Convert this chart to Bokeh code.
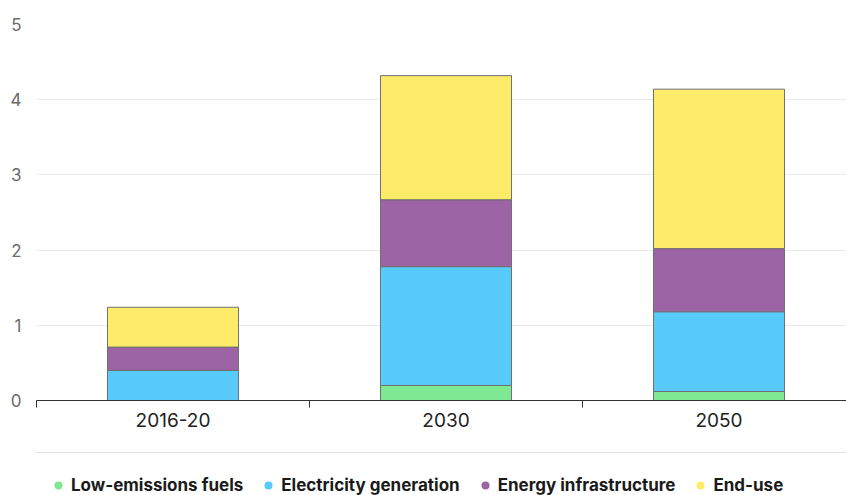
from bokeh.plotting import figure
from bokeh.layouts import column
from bokeh.models import (FixedTicker, LinearAxis, Legend, LegendItem, Range1d,
                          ColumnDataSource)
from bokeh.embed import file_html
from bokeh.resources import INLINE

categories = ["2016-20", "2030", "2050"]
series = ["Low-emissions fuels", "Electricity generation", "Energy infrastructure", "End-use"]
low_emissions = [0.0, 0.20, 0.12]
electricity = [0.40, 1.58, 1.06]
infrastructure = [0.31, 0.89, 0.84]
end_use = [0.53, 1.65, 2.12]
colors = ["#7ee892", "#58cbfa", "#9c64a4", "#fdec6a"]
y_ticks = [0, 1, 2, 3, 4, 5]

FONT = "Inter"
keys = ["low", "elec", "infra", "end"]
x = [i + 0.5 for i in range(len(categories))]
source = ColumnDataSource(dict(x=x, low=low_emissions, elec=electricity,
                               infra=infrastructure, end=end_use))

# the original chart's plot area runs slightly past the right edge of the picture
X_END = len(categories) - 0.033

# ---- main chart ----
p = figure(width=846, height=452, x_range=Range1d(0, X_END),
           y_range=Range1d(0, 5), output_backend="svg", toolbar_location=None,
           x_axis_location=None, min_border_left=36, min_border_top=24,
           min_border_right=0, min_border_bottom=52)
p.outline_line_color = None
p.xgrid.visible = False

bars = p.vbar_stack(keys, x="x", width=0.48, fill_color=colors,
                    line_color="#6f6f6f", line_width=1, source=source)

p.yaxis.ticker = FixedTicker(ticks=y_ticks)
p.yaxis.axis_line_color = None
p.yaxis.major_tick_line_color = None
p.yaxis.minor_tick_line_color = None
p.yaxis.major_label_text_color = "#6b6b6b"
p.yaxis.major_label_text_font = FONT
p.yaxis.major_label_text_font_size = "17px"
p.yaxis.major_label_standoff = 9
p.ygrid.ticker = FixedTicker(ticks=y_ticks)
p.ygrid.grid_line_color = "#ebebeb"

xaxis = LinearAxis(
    ticker=FixedTicker(ticks=x, minor_ticks=list(range(len(categories) + 1))),
    major_label_overrides={xi: c for xi, c in zip(x, categories)},
    major_tick_line_color=None, major_tick_out=0, major_tick_in=0,
    minor_tick_out=7, minor_tick_in=0, minor_tick_line_color="#333333",
    axis_line_color="#333333", axis_line_width=1,
    major_label_text_font=FONT, major_label_text_font_size="19px",
    major_label_text_color="#222222", major_label_standoff=5)
p.add_layout(xaxis, "below")

# ---- legend strip (separator line on top + legend) ----
q = figure(width=846, height=43, x_range=Range1d(0, X_END),
           y_range=Range1d(0, 5), output_backend="svg", toolbar_location=None,
           x_axis_location=None, y_axis_location=None,
           min_border_left=0, min_border_right=0, min_border_top=0, min_border_bottom=0)
q.outline_line_color = None
q.xgrid.visible = False
q.ygrid.visible = False
sep = LinearAxis(ticker=FixedTicker(ticks=[]), axis_line_color="#e3e3e3",
                 major_tick_line_color=None, minor_tick_line_color=None,
                 major_label_text_font_size="0px", major_label_standoff=0)
q.add_layout(sep, "above")

items = []
for name, k, c in zip(series, keys, colors):
    r = q.scatter(x="x", y=k, source=source, marker="circle", size=7,
                  fill_color=c, line_color=None, visible=False)
    items.append(LegendItem(label=name, renderers=[r]))
legend = Legend(items=items, orientation="horizontal", location=(12, 0),
                label_text_font=FONT, label_text_font_size="17px",
                label_text_font_style="bold", label_text_color="#1a1a1a",
                glyph_width=20, glyph_height=20, label_standoff=3, spacing=15,
                border_line_color=None, background_fill_alpha=0, padding=0, margin=0)
q.add_layout(legend)

open("out.html", "w").write(file_html(column(p, q), INLINE))
